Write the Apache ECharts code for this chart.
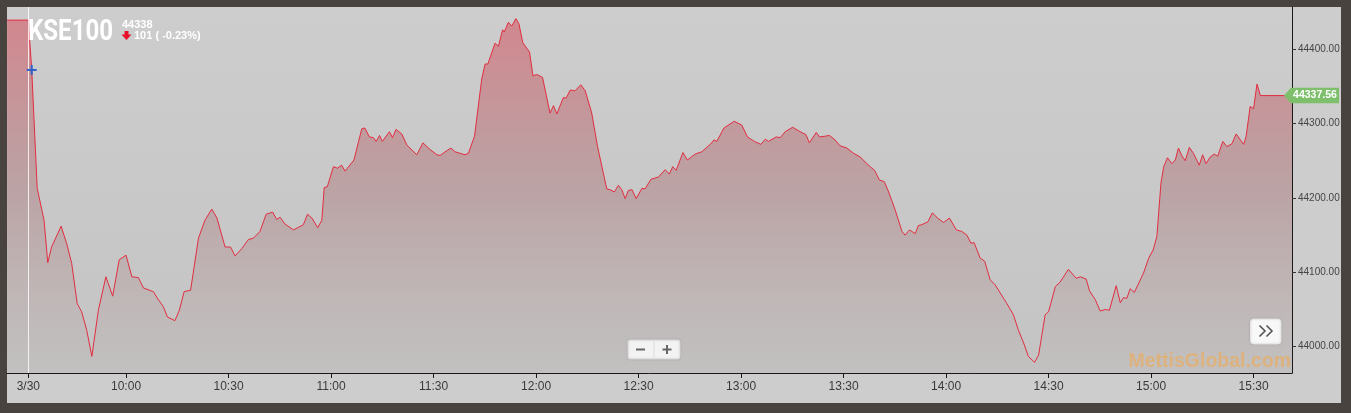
<!DOCTYPE html>
<html><head><meta charset="utf-8">
<script src="https://cdn.jsdelivr.net/npm/echarts@6/dist/echarts.min.js"></script>
<style>
html,body{margin:0;padding:0;background:#48433e;}
#wrap{position:relative;width:1351px;height:413px;background:#48433e;overflow:hidden}
#panel{position:absolute;left:7px;top:7px;width:1334px;height:396px;background:#cdcdcd}
#chart{position:absolute;left:0;top:0;width:1351px;height:413px}
</style></head><body>
<div id="wrap"><div id="panel"></div><div id="chart"></div></div>
<script>
// time of each point, in minutes after midnight (e.g. 600 = 10:00)
const times = [565.2, 571.4, 572.4, 574.0, 576.0, 577.1, 578.2, 579.5, 581.0, 582.6, 584.1, 585.7, 587.0, 588.5, 590.0, 591.9, 594.1, 596.1, 598.0, 600.0, 601.7, 603.6, 605.1, 608.0, 609.5, 610.9, 612.1, 614.3, 615.6, 617.0, 618.9, 621.2, 623.1, 625.1, 626.6, 629.0, 630.6, 631.9, 633.9, 635.8, 637.3, 639.2, 641.0, 642.9, 644.1, 645.1, 646.5, 649.0, 651.9, 653.1, 654.4, 656.1, 657.3, 658.0, 658.9, 660.7, 661.9, 663.1, 664.1, 666.7, 669.0, 669.9, 671.2, 672.4, 673.2, 674.2, 675.0, 677.1, 678.0, 679.0, 680.7, 682.2, 685.1, 686.9, 689.0, 691.0, 691.9, 693.7, 695.1, 696.3, 699.2, 700.2, 702.0, 704.1, 705.1, 705.9, 708.0, 709.0, 710.2, 710.7, 711.9, 712.9, 714.1, 715.0, 716.1, 718.1, 719.1, 720.2, 721.9, 724.1, 725.1, 726.1, 728.0, 728.8, 730.0, 731.4, 733.1, 734.4, 736.3, 738.0, 740.7, 741.7, 742.9, 744.1, 745.1, 746.1, 747.0, 748.1, 749.3, 751.0, 751.9, 753.6, 755.8, 757.8, 759.0, 760.0, 761.0, 763.0, 764.3, 766.6, 768.5, 771.0, 772.1, 772.9, 775.0, 778.0, 780.2, 781.9, 783.9, 785.8, 787.1, 788.0, 790.3, 791.5, 792.9, 795.1, 797.3, 799.0, 800.0, 802.0, 803.0, 804.6, 805.9, 807.5, 809.0, 811.0, 812.9, 814.9, 816.6, 817.8, 819.1, 820.5, 821.9, 823.2, 825.1, 827.1, 828.0, 829.3, 831.0, 831.9, 832.9, 834.7, 836.0, 837.5, 839.3, 841.0, 843.0, 844.6, 846.1, 847.3, 848.2, 850.0, 851.3, 852.9, 854.4, 855.9, 857.8, 859.7, 861.2, 862.7, 864.1, 865.9, 867.1, 869.0, 870.0, 872.0, 873.4, 875.8, 878.1, 879.3, 881.0, 882.0, 883.7, 885.1, 886.6, 887.8, 889.8, 891.0, 891.9, 892.9, 893.9, 895.1, 897.8, 899.3, 900.6, 901.7, 902.9, 903.7, 904.8, 906.1, 907.1, 908.0, 909.0, 910.0, 911.2, 912.4, 914.1, 915.1, 916.1, 917.3, 918.5, 919.5, 921.0, 922.2, 923.7, 924.9, 927.1, 927.8, 929.0, 930.0, 931.0, 932.0, 941.25];
const values = [44439, 44439, 44372, 44213, 44170, 44113, 44134, 44147, 44162, 44139, 44112, 44058, 44047, 44022, 43987, 44049, 44094, 44068, 44117, 44123, 44094, 44093, 44079, 44074, 44063, 44054, 44040, 44035, 44049, 44074, 44076, 44146, 44170, 44185, 44173, 44134, 44134, 44122, 44132, 44144, 44146, 44155, 44178, 44181, 44171, 44174, 44165, 44157, 44164, 44178, 44173, 44160, 44170, 44214, 44215, 44242, 44240, 44244, 44236, 44251, 44293, 44294, 44282, 44281, 44276, 44284, 44276, 44289, 44281, 44292, 44286, 44271, 44258, 44274, 44265, 44258, 44257, 44263, 44267, 44262, 44258, 44260, 44283, 44360, 44380, 44380, 44408, 44404, 44426, 44423, 44436, 44431, 44441, 44434, 44409, 44396, 44364, 44366, 44362, 44314, 44324, 44313, 44335, 44334, 44345, 44344, 44352, 44344, 44314, 44269, 44212, 44211, 44208, 44217, 44211, 44199, 44210, 44211, 44199, 44213, 44212, 44225, 44228, 44238, 44232, 44242, 44237, 44261, 44251, 44259, 44262, 44272, 44278, 44276, 44294, 44303, 44298, 44282, 44276, 44272, 44279, 44276, 44282, 44281, 44289, 44295, 44289, 44285, 44274, 44288, 44282, 44283, 44284, 44278, 44270, 44267, 44260, 44255, 44247, 44242, 44237, 44224, 44222, 44208, 44184, 44155, 44150, 44157, 44152, 44163, 44164, 44168, 44180, 44173, 44167, 44173, 44157, 44155, 44150, 44139, 44140, 44119, 44115, 44090, 44083, 44072, 44058, 44043, 44022, 44005, 43987, 43979, 43989, 44043, 44047, 44081, 44087, 44104, 44092, 44094, 44091, 44075, 44063, 44048, 44050, 44049, 44082, 44059, 44066, 44065, 44078, 44073, 44099, 44119, 44130, 44148, 44220, 44242, 44254, 44246, 44251, 44267, 44257, 44250, 44268, 44260, 44244, 44258, 44246, 44255, 44259, 44256, 44276, 44269, 44273, 44286, 44272, 44282, 44323, 44320, 44353, 44337.56, 44337.56];
const openTime = 571.4;
const lastValue = 44337.56;
const indexName = 'KSE100';
const headlineValue = '44338';
const changeText = '101 ( -0.23%)';
const xTickValues = [571.4, 600, 630, 660, 690, 720, 750, 780, 810, 840, 870, 900, 930];
const xTickLabels = ['3/30', '10:00', '10:30', '11:00', '11:30', '12:00', '12:30', '13:00', '13:30', '14:00', '14:30', '15:00', '15:30'];
const yTickValues = [44000, 44100, 44200, 44300, 44400];
const xMin = 565.16, xMax = 941.25, yMin = 43964.7, yMax = 44456.6;

const chart = echarts.init(document.getElementById('chart'), null, {renderer: 'canvas'});
const seriesData = times.map((t, i) => [t, values[i]]);

chart.setOption({
  animation: false,
  backgroundColor: 'transparent',
  grid: {
    left: 7, right: 59, top: 7, bottom: 40, show: true, borderWidth: 0,
    backgroundColor: {type: 'linear', x: 0, y: 0, x2: 0, y2: 1,
      colorStops: [{offset: 0, color: '#cdcdcd'}, {offset: 1, color: '#c4c4c4'}]}
  },
  xAxis: {
    type: 'value', min: xMin, max: xMax,
    axisLine: {show: true, onZero: false, lineStyle: {color: '#1a1a1a', width: 1}},
    axisTick: {show: true, length: 5, customValues: xTickValues, lineStyle: {color: '#1a1a1a'}},
    axisLabel: {
      customValues: xTickValues, margin: 8, color: '#3a3a3a', fontSize: 12,
      fontFamily: '"Liberation Sans", Arial, sans-serif',
      formatter: v => { const i = xTickValues.findIndex(t => Math.abs(t - v) < 0.01); return i >= 0 ? xTickLabels[i] : ''; }
    },
    splitLine: {show: false}
  },
  yAxis: {
    type: 'value', position: 'right', min: yMin, max: yMax,
    axisLine: {show: true, lineStyle: {color: '#1a1a1a', width: 1}},
    axisTick: {show: true, length: 4, customValues: yTickValues, lineStyle: {color: '#333'}},
    axisLabel: {
      customValues: yTickValues, margin: 6, color: '#444', fontSize: 10,
      fontFamily: '"Liberation Sans", Arial, sans-serif',
      formatter: v => v.toFixed(2)
    },
    splitLine: {show: false}
  },
  series: [{
    type: 'line', data: seriesData, showSymbol: false, symbol: 'none',
    lineStyle: {color: '#e22d40', width: 1},
    areaStyle: {
      color: {type: 'linear', x: 0, y: 0, x2: 0, y2: 1,
        colorStops: [
          {offset: 0, color: 'rgba(218,38,55,0.6)'},
          {offset: 0.5, color: 'rgba(150,58,64,0.37)'},
          {offset: 1, color: 'rgba(150,100,100,0.06)'}
        ]}
    },
    markLine: {
      silent: true, symbol: ['none', 'none'], label: {show: false},
      lineStyle: {color: 'rgba(255,255,255,0.8)', width: 1, type: 'solid'},
      data: [{xAxis: openTime}]
    }
  }]
});

const pLast = chart.convertToPixel({gridIndex: 0}, [xMax, lastValue]);
const pCross = chart.convertToPixel({gridIndex: 0}, [times[2], values[2]]);
const tipX = pLast[0] - 8, ty = pLast[1];

chart.setOption({
  graphic: [
    {type: 'text', x: 28, y: 33, scaleX: 0.83, z: 50,
      style: {x: 0, y: 0, text: indexName, fill: '#ffffff', font: 'bold 29px Roboto', align: 'left', verticalAlign: 'middle'}},
    {type: 'text', x: 122, y: 24.5, z: 50,
      style: {text: headlineValue, fill: '#ffffff', font: 'bold 11px "Liberation Sans", Arial', align: 'left', verticalAlign: 'middle'}},
    {type: 'polygon', z: 50,
      shape: {points: [[124.5, 31], [128.5, 31], [128.5, 34.5], [131.5, 34.5], [126.5, 40], [121.5, 34.5], [124.5, 34.5]]},
      style: {fill: '#e8102a'}},
    {type: 'text', x: 134, y: 36, z: 50,
      style: {text: changeText, fill: '#ffffff', font: 'bold 11px "Liberation Sans", Arial', align: 'left', verticalAlign: 'middle'}},
    // blue cross marker
    {type: 'line', z: 50, shape: {x1: pCross[0] - 5, y1: pCross[1], x2: pCross[0] + 5, y2: pCross[1]}, style: {stroke: '#2f63c8', lineWidth: 2}},
    {type: 'line', z: 50, shape: {x1: pCross[0], y1: pCross[1] - 5, x2: pCross[0], y2: pCross[1] + 5}, style: {stroke: '#2f63c8', lineWidth: 2}},
    // last value tag
    {type: 'polygon', z: 60,
      shape: {points: [[tipX, ty], [tipX + 7, ty - 7.7], [tipX + 55, ty - 7.7], [tipX + 55, ty + 7.7], [tipX + 7, ty + 7.7]]},
      style: {fill: '#7dbf6b'}},
    {type: 'text', x: tipX + 31, y: ty, z: 61,
      style: {text: lastValue.toFixed(2), fill: '#ffffff', font: 'bold 10.5px "Liberation Sans", Arial', align: 'center', verticalAlign: 'middle'}},
    // zoom buttons
    {type: 'rect', z: 50, shape: {x: 628, y: 340, width: 52, height: 19, r: 2},
      style: {fill: '#f3f3f3', stroke: '#dadada', lineWidth: 1, shadowBlur: 2, shadowColor: 'rgba(0,0,0,0.15)'}},
    {type: 'line', z: 51, shape: {x1: 654, y1: 341, x2: 654, y2: 358}, style: {stroke: '#dcdcdc', lineWidth: 1}},
    {type: 'line', z: 51, shape: {x1: 636, y1: 349.5, x2: 645, y2: 349.5}, style: {stroke: '#666', lineWidth: 2}},
    {type: 'line', z: 51, shape: {x1: 662.5, y1: 349.5, x2: 671.5, y2: 349.5}, style: {stroke: '#666', lineWidth: 2}},
    {type: 'line', z: 51, shape: {x1: 667, y1: 345, x2: 667, y2: 354}, style: {stroke: '#666', lineWidth: 2}},
    // forward button
    {type: 'rect', z: 50, shape: {x: 1250.5, y: 319, width: 30.5, height: 25, r: 3},
      style: {fill: '#f8f8f8', stroke: '#e4e4e4', lineWidth: 1, shadowBlur: 2, shadowColor: 'rgba(0,0,0,0.15)'}},
    {type: 'polyline', z: 51, shape: {points: [[1259.5, 325.5], [1265, 331], [1259.5, 336.5]]}, style: {stroke: '#555', lineWidth: 1.6, fill: null}},
    {type: 'polyline', z: 51, shape: {points: [[1266.5, 325.5], [1272, 331], [1266.5, 336.5]]}, style: {stroke: '#555', lineWidth: 1.6, fill: null}},
    // watermark
    {type: 'text', x: 1291, y: 361.5, z: 40,
      style: {text: 'MettisGlobal.com', fill: 'rgba(250,165,60,0.5)', font: 'bold 19.5px "Liberation Sans", Arial', align: 'right', verticalAlign: 'middle'}}
  ]
});
</script>
</body></html>
